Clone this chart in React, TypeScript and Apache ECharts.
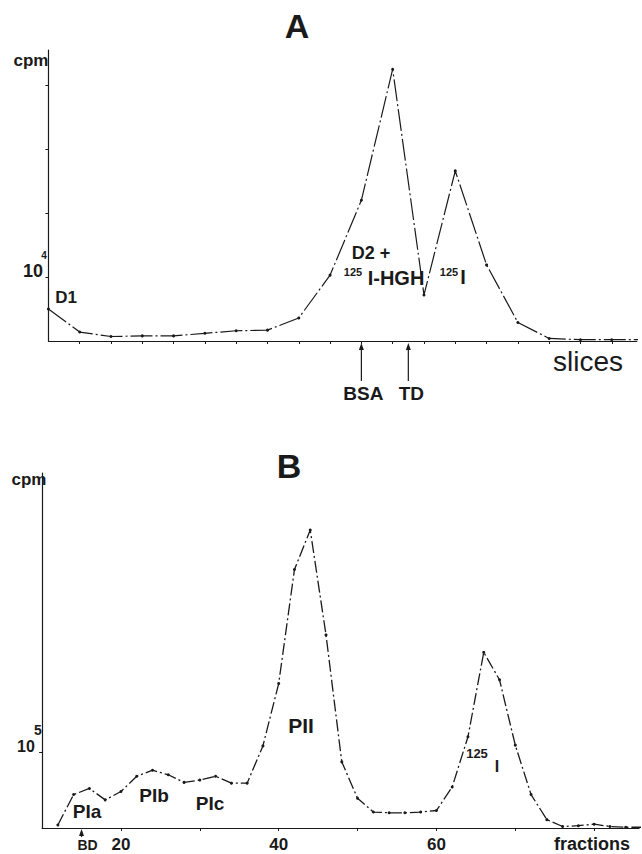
import React, { useEffect, useRef } from "react";
import * as echarts from "echarts";

// Panel A: slices vs cpm (units of 10^4)
const slicesA = [0, 1, 2, 3, 4, 5, 6, 7, 8, 9, 10, 11, 12, 13, 14, 15, 16, 17, 18, 19];
const cpmA = [0.5, 0.14, 0.07, 0.08, 0.08, 0.12, 0.16, 0.17, 0.36, 1.03, 2.2, 4.25, 0.72, 2.66, 1.19, 0.29, 0.04, 0.02, 0.02, 0.02];
const markersA = [
  { name: "BSA", slice: 10 },
  { name: "TD", slice: 11.5 },
];

// Panel B: fractions vs cpm (units of 10^5)
const fractionsB = [12, 14, 16, 18, 20, 22, 24, 26, 28, 30, 32, 34, 36, 38, 40, 42, 44, 46, 48, 50, 52, 54, 56, 58, 60, 62, 64, 66, 68, 70, 72, 74, 76, 78, 80, 82, 84, 86];
const cpmB = [0.04, 0.44, 0.52, 0.37, 0.48, 0.68, 0.76, 0.7, 0.6, 0.63, 0.68, 0.59, 0.59, 1.08, 1.9, 3.4, 3.92, 2.54, 0.87, 0.39, 0.21, 0.2, 0.2, 0.21, 0.23, 0.54, 1.2, 2.31, 1.95, 1.09, 0.44, 0.11, 0.02, 0.03, 0.05, 0.02, 0.01, 0.01];
const markerB = { name: "BD", fraction: 15 };
const fractionTickLabels = [20, 40, 60];
const fractionTicks = [20, 30, 40, 50, 60, 70, 80];

const INK = "#1a1a1a";
const BOLD = '"Liberation Sans", Arial, sans-serif';

function txt(text: string, x: number, y: number, size: number, opts: any = {}) {
  return {
    type: "text",
    x,
    y,
    silent: true,
    style: {
      text,
      fill: INK,
      fontSize: size,
      fontWeight: opts.weight || "bold",
      fontFamily: opts.family || BOLD,
      align: opts.align || "center",
      verticalAlign: "middle",
      ...(opts.style || {}),
    },
  };
}

function arrow(x: number, yTop: number, yBottom: number) {
  return [
    {
      type: "line",
      silent: true,
      shape: { x1: x, y1: yTop + 3, x2: x, y2: yBottom },
      style: { stroke: INK, lineWidth: 1.2 },
    },
    {
      type: "polygon",
      silent: true,
      shape: { points: [[x, yTop], [x - 2.5, yTop + 7], [x + 2.5, yTop + 7]] },
      style: { fill: INK },
    },
  ];
}

export default function App() {
  const ref = useRef<HTMLDivElement>(null);

  useEffect(() => {
    if (!ref.current) return;
    const chart = echarts.init(ref.current, undefined, { renderer: "svg" });
    const axisLine = { show: true, lineStyle: { color: INK, width: 1.2 } };
    const option: any = {
      animation: false,
      backgroundColor: "#ffffff",
      grid: [
        { left: 48.4, top: 50, width: 588.4, height: 291 },
        { left: 42.1, top: 473, width: 597, height: 355 },
      ],
      xAxis: [
        {
          type: "value",
          gridIndex: 0,
          min: 0,
          max: 18.8,
          axisLine,
          axisTick: { show: true, length: 3, customValues: slicesA.slice(1, 19), lineStyle: { color: INK } },
          axisLabel: { show: false },
          splitLine: { show: false },
        },
        {
          type: "value",
          gridIndex: 1,
          min: 10,
          max: 85.7,
          interval: 10,
          axisLine,
          axisTick: { show: true, length: 3, customValues: fractionTicks, lineStyle: { color: INK } },
          axisLabel: {
            show: true,
            customValues: fractionTickLabels,
            color: INK,
            fontSize: 17,
            fontWeight: "bold",
            fontFamily: BOLD,
            margin: 8,
          },
          splitLine: { show: false },
        },
      ],
      yAxis: [
        {
          type: "value",
          gridIndex: 0,
          min: 0,
          max: 4.55,
          axisLine,
          axisTick: { show: true, length: 3, customValues: [1, 2, 3, 4], lineStyle: { color: INK } },
          axisLabel: { show: false },
          splitLine: { show: false },
        },
        {
          type: "value",
          gridIndex: 1,
          min: 0,
          max: 4.67,
          axisLine,
          axisTick: { show: true, length: 3, customValues: [1], lineStyle: { color: INK } },
          axisLabel: { show: false },
          splitLine: { show: false },
        },
      ],
      series: [
        {
          type: "line",
          xAxisIndex: 0,
          yAxisIndex: 0,
          data: slicesA.map((s, i) => [s, cpmA[i]]),
          symbol: "circle",
          symbolSize: 3,
          itemStyle: { color: INK },
          lineStyle: { color: INK, width: 1.2, type: [22, 3, 2, 3] },
          clip: true,
        },
        {
          type: "line",
          xAxisIndex: 1,
          yAxisIndex: 1,
          data: fractionsB.map((f, i) => [f, cpmB[i]]),
          symbol: "circle",
          symbolSize: 3,
          itemStyle: { color: INK },
          lineStyle: { color: INK, width: 1.3, type: [12, 3, 2, 3] },
          clip: true,
        },
      ],
    };
    chart.setOption(option);

    const graphics: any[] = [];
    // arrows under panel A axis
    markersA.forEach((m) => {
      const p = chart.convertToPixel({ xAxisIndex: 0, yAxisIndex: 0 }, [m.slice, 0]) as number[];
      graphics.push(...arrow(p[0], p[1] + 2, p[1] + 40));
      graphics.push(txt(m.name, p[0] + (m.name === "TD" ? 3 : 2), p[1] + 52, 19));
    });
    const pb = chart.convertToPixel({ xAxisIndex: 1, yAxisIndex: 1 }, [markerB.fraction, 0]) as number[];
    graphics.push(...arrow(pb[0], pb[1] + 1, pb[1] + 9));
    graphics.push(txt(markerB.name, pb[0] + 6, pb[1] + 17, 14));

    graphics.push(
      // panel A texts
      txt("A", 297, 26, 34, { weight: 900 }),
      txt("cpm", 31, 60, 17),
      txt("10", 43, 271, 18, { align: "right" }),
      txt("4", 44, 255, 10),
      txt("D1", 66, 297, 17),
      txt("D2 +", 371, 253, 18),
      txt("125", 353, 272, 11),
      txt("I-HGH", 396, 278, 20),
      txt("125", 449, 272, 11),
      txt("I", 463, 277, 20),
      txt("slices", 588, 361, 28, { weight: "normal", style: { letterSpacing: 2 } }),
      // panel B texts
      txt("B", 289, 466, 34, { weight: 900 }),
      txt("cpm", 29, 479, 17),
      txt("10", 26, 746, 16),
      txt("5", 38, 730, 14),
      txt("PIa", 87, 811, 19),
      txt("PIb", 154, 795, 19),
      txt("PIc", 210, 803, 19),
      txt("PII", 301, 725, 21),
      txt("125", 477, 753, 13),
      txt("I", 497, 766, 16),
      txt("fractions", 592, 844, 18, { style: { letterSpacing: 3 } })
    );
    chart.setOption({ graphic: graphics });

    return () => chart.dispose();
  }, []);

  return (
    <div
      ref={ref}
      style={{ position: "fixed", left: 0, top: 0, width: 642, height: 854, background: "#fff" }}
    />
  );
}
